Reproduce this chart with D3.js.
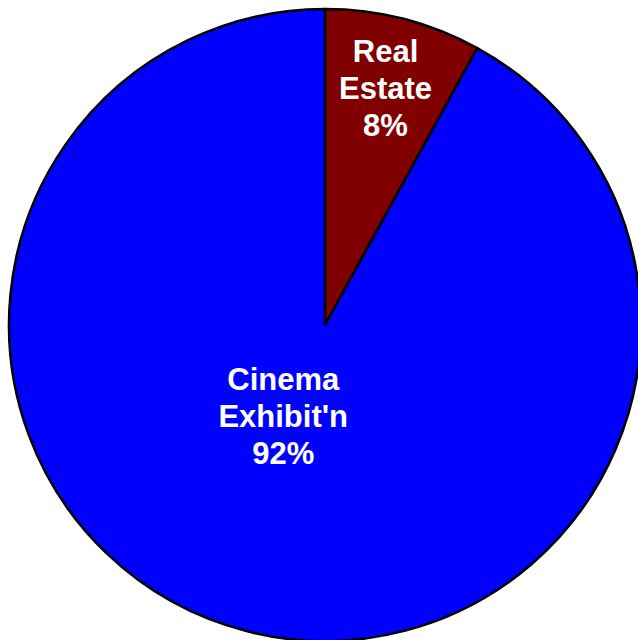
<!DOCTYPE html>
<html>
<head>
<meta charset="utf-8">
<script src="https://cdn.jsdelivr.net/npm/d3@7"></script>
<style>
  body { margin: 0; background: #fff; }
  svg { display: block; }
</style>
</head>
<body>
<svg class="chart"></svg>
<script>
// pie data: categories, shares, colours
var categories = ['Real Estate', "Cinema Exhibit'n"];
var values = [8, 92];
var labelLines = [['Real', 'Estate', '8%'], ['Cinema', "Exhibit'n", '92%']];
var colors = ['#800000', '#0000ff'];

(function () {
    var width = 638, height = 640;
    var cx = 325, cy = 325, radius = 316;

    var svg = d3.select('.chart')
        .attr('width', width)
        .attr('height', height);

    var g = svg.append('g')
        .attr('transform', 'translate(' + cx + ',' + cy + ')');

    var pie = d3.pie().sort(null).value(function (d) { return d; });
    var arcs = pie(values);

    var arc = d3.arc().innerRadius(0).outerRadius(radius);

    g.selectAll('path')
        .data(arcs)
        .enter().append('path')
            .attr('d', arc)
            .attr('fill', function (d, i) { return colors[i]; })
            .attr('stroke', '#000')
            .attr('stroke-width', 2.5)
            .attr('stroke-linejoin', 'round');

    // label anchor: fraction of the radius, plus a small turn (degrees) off the slice bisector
    var labelRadius = [0.77, 0.32];
    var labelTurn = [0, 10];
    var lineHeight = 37;

    var labels = g.selectAll('text')
        .data(arcs)
        .enter().append('text')
            .attr('text-anchor', 'middle')
            .attr('fill', '#fff')
            .style('font-family', '"Liberation Sans", Arial, sans-serif')
            .style('font-weight', 'bold')
            .style('font-size', '31px')
            .attr('transform', function (d, i) {
                var a = (d.startAngle + d.endAngle) / 2 + labelTurn[i] * Math.PI / 180;
                var r = radius * labelRadius[i];
                return 'translate(' + (r * Math.sin(a)) + ',' + (-r * Math.cos(a)) + ')';
            });

    labels.each(function (d, i) {
        var lines = labelLines[i];
        var t = d3.select(this);
        lines.forEach(function (line, k) {
            t.append('tspan')
                .attr('x', 0)
                .attr('y', (k - (lines.length - 1) / 2) * lineHeight + 10)
                .text(line);
        });
    });
}());
</script>
</body>
</html>
